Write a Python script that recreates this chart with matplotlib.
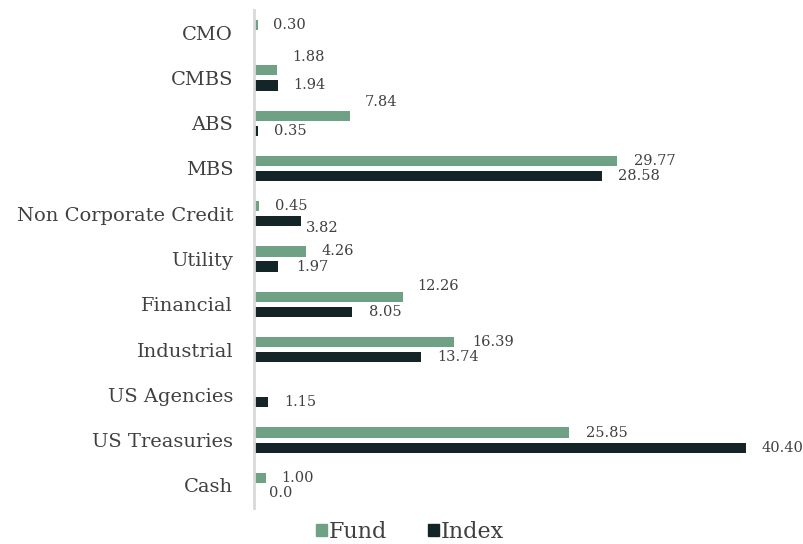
import matplotlib.pyplot as plt
import numpy as np

plt.rcParams['font.family'] = 'serif'
plt.rcParams['font.serif'] = ['DejaVu Serif', 'Liberation Serif']

# Data (top to bottom as shown)
categories = ['CMO', 'CMBS', 'ABS', 'MBS', 'Non Corporate Credit', 'Utility',
              'Financial', 'Industrial', 'US Agencies', 'US Treasuries', 'Cash']
fund = [0.30, 1.88, 7.84, 29.77, 0.45, 4.26, 12.26, 16.39, None, 25.85, 1.00]
index = [None, 1.94, 0.35, 28.58, 3.82, 1.97, 8.05, 13.74, 1.15, 40.40, 0.0]
fund_labels = ['0.30', '1.88', '7.84', '29.77', '0.45', '4.26', '12.26', '16.39', None, '25.85', '1.00']
index_labels = [None, '1.94', '0.35', '28.58', '3.82', '1.97', '8.05', '13.74', '1.15', '40.40', '0.0']

# label nudges in points (dx, dy) - mimic excel placement
fund_nudge = [(11, 0), (11, 10), (11, 10), (12, 0), (11, 0), (11, 0), (10, 8), (13, 0), None, (12, 0), (11, 0)]
index_nudge = [None, (11, 0), (11, 0), (11, 0), (4, -5), (13, 0), (12, 0), (11, 0), (12, 0), (11, 0), (11, 0)]

green = '#6fa284'
dark = '#142528'
txt = '#404040'

fig = plt.figure(figsize=(8.04, 5.44), dpi=100)
ax = fig.add_axes([254/804, 1 - 508/544, 512/804, 498/544])

n = len(categories)
y = np.arange(n)
h = 0.225
off = 0.166

for i in range(n):
    yc = n - 1 - i
    if fund[i] is not None:
        ax.barh(yc + off, fund[i], height=h, color=green)
        dx, dy = fund_nudge[i]
        ax.annotate(fund_labels[i], (fund[i], yc + off), xytext=(dx, dy),
                    textcoords='offset points', ha='left', va='center',
                    fontsize=10.5, color=txt)
    if index[i] is not None:
        ax.barh(yc - off, index[i], height=h, color=dark)
        dx, dy = index_nudge[i]
        ax.annotate(index_labels[i], (index[i], yc - off), xytext=(dx, dy),
                    textcoords='offset points', ha='left', va='center',
                    fontsize=10.5, color=txt)

ax.set_xlim(0, 42)
ax.set_ylim(-0.5, n - 0.5)
ax.set_yticks(n - 1 - y)
ax.set_yticklabels(categories, fontsize=14, color=txt)
ax.tick_params(axis='y', length=0, pad=15)
ax.set_xticks([])
for s in ['top', 'right', 'bottom']:
    ax.spines[s].set_visible(False)
ax.spines['left'].set_color('#d9d9d9')
ax.spines['left'].set_linewidth(2)

handles = [plt.Rectangle((0, 0), 1, 1, color=green), plt.Rectangle((0, 0), 1, 1, color=dark)]
fig.legend(handles, ['Fund', 'Index'], loc='center', bbox_to_anchor=(410/804, 1 - 532/544),
           ncol=2, frameon=False, fontsize=16, handlelength=0.5, handleheight=0.4,
           handletextpad=0.1, columnspacing=1.8, labelcolor=txt)

fig.savefig('out.png', dpi=100, facecolor='white')
